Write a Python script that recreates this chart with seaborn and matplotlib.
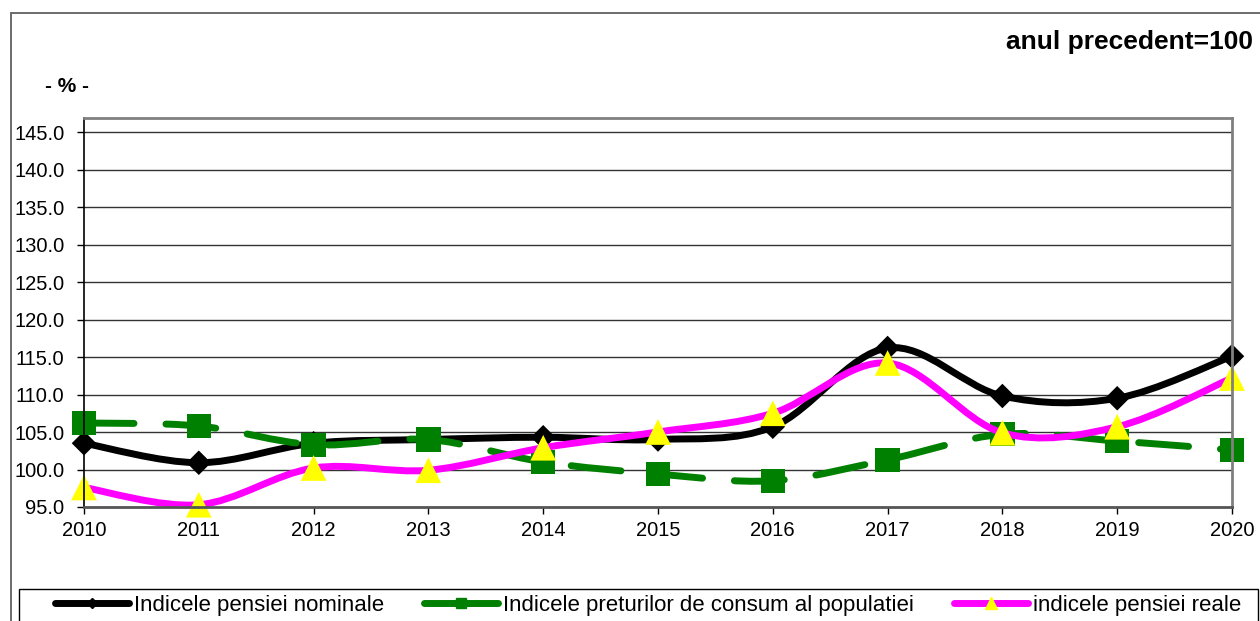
import matplotlib
matplotlib.use("Agg")
import matplotlib.pyplot as plt
import seaborn as sns
import numpy as np
from matplotlib.path import Path
from matplotlib.patches import PathPatch, Rectangle
from matplotlib.lines import Line2D

years = [2010, 2011, 2012, 2013, 2014, 2015, 2016, 2017, 2018, 2019, 2020]
nominal = [103.5, 100.9, 103.5, 104.0, 104.3, 104.0, 105.7, 116.2, 109.8, 109.5, 115.1]
cpi = [106.2, 105.8, 103.3, 104.0, 101.0, 99.4, 98.5, 101.3, 104.7, 103.8, 102.6]
real = [97.6, 95.3, 100.2, 99.9, 102.9, 105.0, 107.5, 114.2, 104.9, 105.7, 112.2]

names = ["Indicele pensiei nominale",
         "Indicele preturilor de consum al populatiei",
         "indicele pensiei reale"]
yticks = [95, 100, 105, 110, 115, 120, 125, 130, 135, 140, 145]

sns.set_style("white")
plt.rcParams['font.family'] = ['Liberation Sans', 'DejaVu Sans']
plt.rcParams['text.color'] = 'black'
plt.rcParams['lines.scale_dashes'] = False


def smooth_path(xs, ys):
    # excel style smoothing: cubic bezier, catmull-rom control points
    p = np.column_stack([xs, ys]).astype(float)
    n = len(p)
    verts = [p[0]]
    codes = [Path.MOVETO]
    for i in range(n - 1):
        p0 = p[i - 1] if i > 0 else p[i]
        p3 = p[i + 2] if i + 2 < n else p[i + 1]
        c1 = p[i] + (p[i + 1] - p0) / 6.0
        c2 = p[i + 1] - (p3 - p[i]) / 6.0
        verts += [c1, c2, p[i + 1]]
        codes += [Path.CURVE4] * 3
    return Path(verts, codes)


fig = plt.figure(figsize=(12.6, 6.21), dpi=100)
ax = fig.add_axes([84 / 1260, 1 - 507 / 621, (1232 - 84) / 1260, (507 - 118) / 621])

series = [
    (nominal, "black", "D", 12.5, "solid"),
    (cpi, "#008000", "s", 17.5, (0, (36, 23))),
    (real, "#FF00FF", "^", 18.5, "solid"),
]
mcolors = ["black", "#008000", "#FFFF00"]

for k, (vals, col, mk, ms, ls) in enumerate(series):
    patch = PathPatch(smooth_path(years, vals), facecolor="none", edgecolor=col,
                      lw=5.0, linestyle=ls, capstyle="round", joinstyle="round",
                      zorder=2 + k * 0.2, clip_on=False)
    ax.add_patch(patch)
    sns.scatterplot(x=years, y=vals, marker=mk, s=ms ** 2, color=mcolors[k],
                    edgecolor="none", linewidth=0, ax=ax,
                    zorder=2.1 + k * 0.2, clip_on=False, legend=False)

ax.set_xlim(2010, 2020)
ax.set_ylim(95, 95 + (507 - 118) / 7.5)
ax.set_xticks(years)
ax.set_xticklabels([str(y) for y in years])
ax.set_yticks(yticks)
ax.set_yticklabels([f"{v:.1f}" for v in yticks])
ax.grid(False)
for v in yticks[1:]:
    ax.axhline(v, color="#333333", lw=1.0, zorder=1)

ax.tick_params(axis="both", direction="out", length=5, width=1, color="black",
               labelsize=14.5, labelcolor="black")
ax.tick_params(axis="y", pad=9)
ax.tick_params(axis="x", pad=5)
ax.tick_params(left=True, bottom=True)
ax.spines["left"].set_color("black")
ax.spines["left"].set_linewidth(1.2)
ax.spines["bottom"].set_color("#555555")
ax.spines["bottom"].set_linewidth(2)
for side in ["top", "right"]:
    ax.spines[side].set_color("#808080")
    ax.spines[side].set_linewidth(2)
ax.set_xlabel("")
ax.set_ylabel("")

fig.text(1253 / 1260, 1 - 42 / 621, "anul precedent=100", ha="right", va="center",
         fontsize=19, fontweight="bold")
fig.text(67 / 1260, 1 - 87 / 621, "- % -", ha="center", va="center",
         fontsize=15, fontweight="bold")

# outer chart frame
fig.patches.append(Rectangle((11 / 1260, -0.01), 1.02, 1 - 13 / 621 + 0.01,
                             transform=fig.transFigure, fill=False,
                             edgecolor="#606060", lw=1.3))
# legend frame
fig.patches.append(Rectangle((19 / 1260, -0.01), 1239 / 1260, 1 - 589 / 621 + 0.01,
                             transform=fig.transFigure, fill=False,
                             edgecolor="black", lw=1.0))

handles = [
    Line2D([], [], color="black", lw=5, marker="D", markersize=5,
           markerfacecolor="black", markeredgecolor="black", solid_capstyle="round"),
    Line2D([], [], color="#008000", lw=5, marker="s", markersize=7,
           markerfacecolor="#008000", markeredgecolor="#008000", solid_capstyle="round"),
    Line2D([], [], color="#FF00FF", lw=5, marker="^", markersize=8,
           markerfacecolor="#FFFF00", markeredgecolor="#FFFF00", solid_capstyle="round"),
]
leg = fig.legend(handles, names, loc="center left",
                 bbox_to_anchor=(55 / 1260, 1 - 605 / 621),
                 ncol=3, frameon=False, fontsize=16, handlelength=3.35,
                 handletextpad=0.2, columnspacing=1.8, borderaxespad=0,
                 borderpad=0)

fig.savefig("out.png", dpi=100)
